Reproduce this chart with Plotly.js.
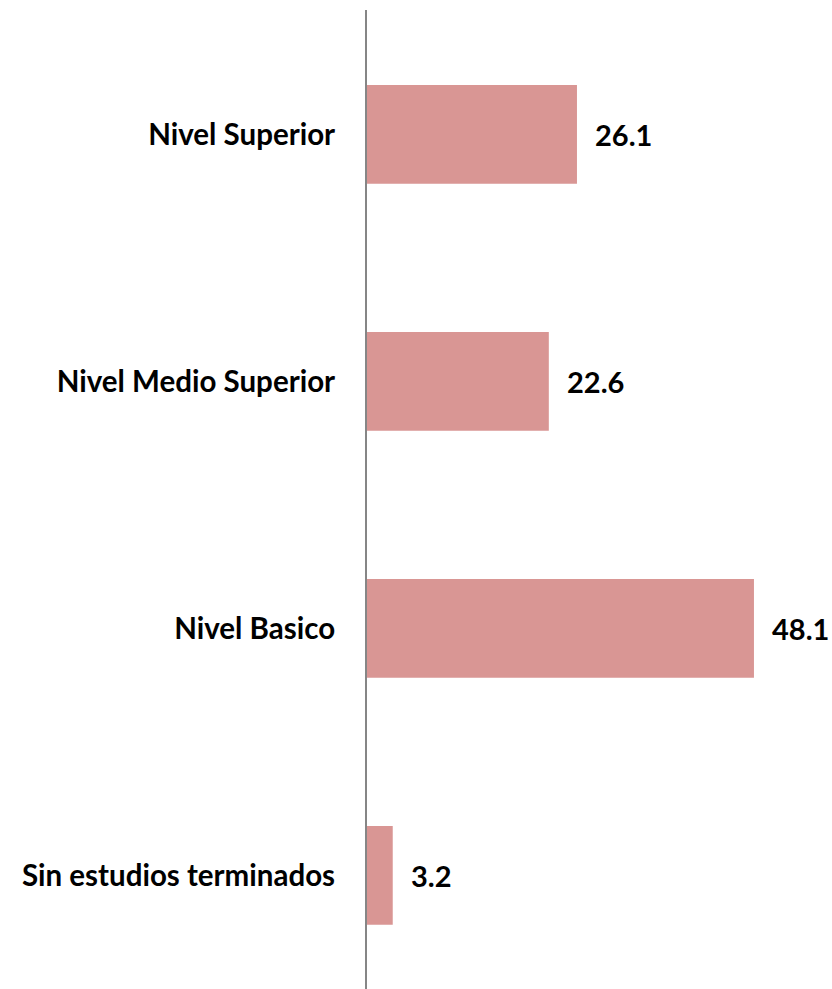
<!DOCTYPE html>
<html>
<head>
<meta charset="utf-8">
<script src="https://cdn.plot.ly/plotly-3.0.1.min.js"></script>
<style>
  html, body { margin: 0; padding: 0; background: #fff; }
  #chart { width: 832px; height: 989px; }
</style>
</head>
<body>
<div id="chart"></div>
<script>
// datos (de abajo hacia arriba)
const categorias = ['Sin estudios terminados', 'Nivel Basico', 'Nivel Medio Superior', 'Nivel Superior'];
const valores = [3.2, 48.1, 22.6, 26.1];
const etiquetas = ['3.2', '48.1', '22.6', '26.1'];

const FONT = "Lato, 'Open Sans', sans-serif";

const trace = {
    type: 'bar',
    orientation: 'h',
    x: valores,
    y: categorias,
    width: 0.4,
    marker: { color: '#D99694', line: { width: 0 } },
    hoverinfo: 'none'
};

const annotations = valores.map((v, i) => ({
    x: v, y: categorias[i],
    text: '<b>' + etiquetas[i] + '</b>',
    showarrow: false,
    xanchor: 'left',
    xshift: 16,
    font: { family: FONT, size: 29, color: '#000' }
}));

const layout = {
    width: 832, height: 989,
    margin: { l: 367, r: 0, t: 10, b: 0 },
    paper_bgcolor: '#fff', plot_bgcolor: '#fff',
    showlegend: false,
    xaxis: { range: [0, 57.8], visible: false, fixedrange: true },
    yaxis: {
        type: 'category',
        range: [-0.46, 3.504],
        showline: true, linecolor: '#868686', linewidth: 2,
        showgrid: false, zeroline: false,
        ticks: '', ticklabelstandoff: 24,
        tickfont: { family: FONT, size: 29.5, color: '#000', weight: 'bold' },
        fixedrange: true
    },
    annotations: annotations
};

Plotly.newPlot('chart', [trace], layout, { displayModeBar: false, staticPlot: true });
</script>
</body>
</html>
